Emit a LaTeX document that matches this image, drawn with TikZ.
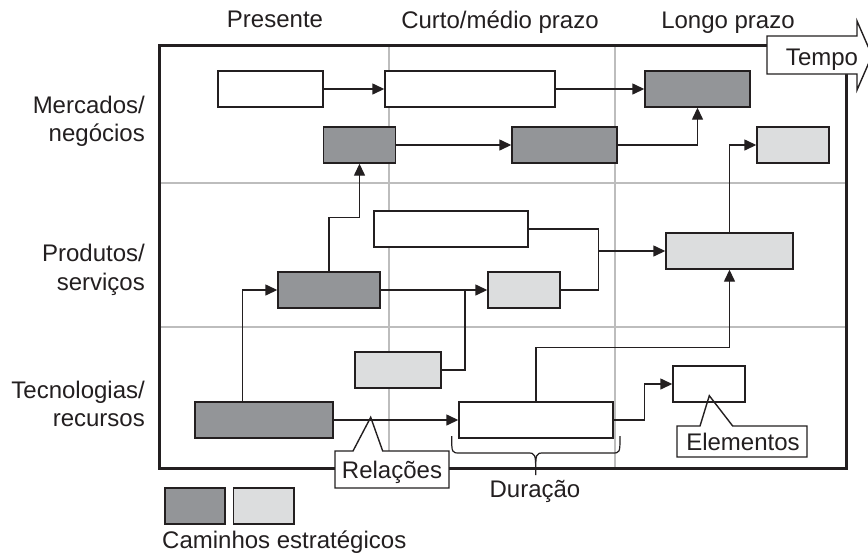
\documentclass[tikz,border=0pt]{standalone}
\usepackage{fontspec}
\setmainfont{Liberation Sans}
\usetikzlibrary{arrows.meta}
\definecolor{ink}{HTML}{231F20}
\definecolor{dk}{HTML}{939598}
\definecolor{lt}{HTML}{DCDDDE}
\definecolor{gridc}{HTML}{BDBDBD}
\begin{document}
\begin{tikzpicture}[x=1pt,y=-1pt,
 every node/.style={font=\fontsize{24}{28.4}\selectfont, text=ink, inner sep=0pt},
 blk/.style={draw=ink, line width=1.4pt, minimum height=36pt, inner sep=0pt},
 wbox/.style={blk, fill=white},
 dbox/.style={blk, fill=dk},
 lbox/.style={blk, fill=lt},
 conn/.style={draw=ink, line width=1.4pt},
 arr/.style={conn, -{Triangle[length=12pt,width=11pt]}},
 gridln/.style={draw=gridc, line width=1.2pt},
 outl/.style={draw=ink, line width=1.4pt},
]
\fill[white] (0,0) rectangle (868,558);
\useasboundingbox (0,0) rectangle (868,558);

% grid
\draw[gridln] (389,45) -- (389,468);
\draw[gridln] (615,45) -- (615,468);
\draw[gridln] (159,183) -- (846,183);
\draw[gridln] (159,327) -- (846,327);
% frame
\draw[ink, line width=3pt] (159,45) rectangle (846,468);

% headers
\node[anchor=base] (hp) at (275,27) {Presente};
\node[anchor=base] (hc) at (500,28) {Curto/médio prazo};
\node[anchor=base] (hl) at (728,28) {Longo prazo};

% row labels (base = last line)
\node[anchor=base east, align=right] (r1) at (145,141.7) {Mercados/\\negócios};
\node[anchor=base east, align=right] (r2) at (145,290) {Produtos/\\serviços};
\node[anchor=base east, align=right] (r3) at (145,426.7) {Tecnologias/\\recursos};

% boxes
\node[wbox, minimum width=105pt] (A) at (270.5,89) {};
\node[wbox, minimum width=170pt] (B) at (470,89) {};
\node[dbox, minimum width=105pt] (C) at (697.5,89) {};
\node[dbox, minimum width=72pt] (D) at (359.5,145) {};
\node[dbox, minimum width=105pt] (E) at (564.5,145) {};
\node[lbox, minimum width=72pt] (F) at (793,145) {};
\node[wbox, minimum width=154pt] (G) at (451,229) {};
\node[lbox, minimum width=127pt] (H) at (729.5,251) {};
\node[dbox, minimum width=102pt] (I) at (329,290) {};
\node[lbox, minimum width=72pt] (J) at (524,290) {};
\node[lbox, minimum width=86pt] (K) at (398,370) {};
\node[wbox, minimum width=72pt] (L) at (709,384) {};
\node[dbox, minimum width=138pt] (M) at (264,420) {};
\node[wbox, minimum width=154pt] (N) at (536,420) {};

\coordinate (kj) at (465,290);
\coordinate (gj) at (598.5,251);

% connectors
\draw[arr] (A.east) -- (B.west);
\draw[arr] (B.east) -- (C.west);
\draw[arr] (D.east) -- (E.west);
\draw[arr] (E.east) -| (C.south);
\draw[arr] (I.north) -- ++(0,-54) -| (D.south);
\draw[arr] (H.north) |- (F.west);
\draw[conn] (G.east) -| (gj) |- (J.east);
\draw[arr] (gj) -- (H.west);
\draw[arr] (I.east) -- (J.west);
\draw[conn] (K.east) -| (kj);
\draw[arr] ([xshift=-21.3pt]M.north) |- (I.west);
\draw[arr] (M.east) -- (N.west);
\draw[arr] (N.north) -- ++(0,-54) -| (H.south);
\draw[arr] (N.east) -- ++(30.6,0) |- (L.west);

% Relações callout
\fill[white] (335,451) rectangle (449,488);
\draw[outl] (353,451) -- (370.7,417.3) -- (382.7,451) -- (449,451) -- (449,488) -- (335,488) -- (335,451) -- cycle;
\node[anchor=base] (rel) at (392,478.3) {Relações};

% Elementos callout
\fill[white] (677,426) rectangle (807,457);
\draw[outl] (700,426) -- (709.3,395.7) -- (732.7,426) -- (807,426) -- (807,457) -- (677,457) -- (677,426) -- cycle;
\node[anchor=base] (ele) at (743,450.7) {Elementos};

% Duração brace
\draw[ink, line width=1.2pt] (451.7,436) .. controls (451.7,453) .. (460,453) -- (527,453) .. controls (535.7,453) .. (535.7,475) .. controls (535.7,453) .. (544,453) -- (612,453) .. controls (620,453) .. (620,436);
\node[anchor=base] (dur) at (535,497.3) {Duração};

% Tempo arrow
\draw[outl, fill=white] (767,36) -- (857,36) -- (857,21) -- (872,55.5) -- (857,90) -- (857,74) -- (767,74) -- cycle;
\node[anchor=base] (tempo) at (822,65) {Tempo};

% legend
\node[dbox, minimum width=60pt] (lg1) at (195,506) {};
\node[lbox, minimum width=60.7pt] (lg2) at (263.7,506) {};
\node[anchor=base west] (cam) at (162,548) {Caminhos estratégicos};
\end{tikzpicture}
\end{document}
